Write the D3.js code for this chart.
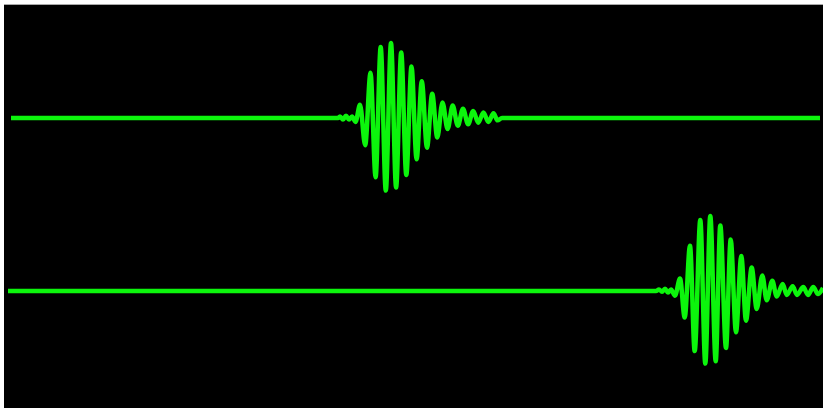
<!DOCTYPE html>
<html>
<head>
<meta charset="utf-8">
<script src="https://cdn.jsdelivr.net/npm/d3@7"></script>
<style>
  html, body { margin: 0; padding: 0; background: #ffffff; }
  svg { display: block; }
</style>
</head>
<body>
<svg id="chart" width="823" height="408"></svg>
<script>
// Two seismogram traces: sample index and normalised amplitude at each turning point.
const traceNames = ["Station A", "Station B"];

const traceATimes = [7, 334, 336, 339, 342, 345, 348, 351.5,
  356, 361.2, 366.5, 371.6, 376.7, 381.8, 387, 392.1, 397.2, 402.3, 407.5, 412.6,
  417.8, 423, 428.2, 433.3, 438.5, 443.6, 448.7, 453.8, 459, 464.1, 469.2, 474.3,
  479.4, 484.4, 489.5, 493.5, 498, 816];
const traceAAmps = [0, 0, 0.02, -0.02, 0.03, -0.02, 0.02, -0.05,
  0.17, -0.35, 0.58, -0.76, 0.91, -0.93, 0.96, -0.89, 0.84, -0.73, 0.66, -0.53,
  0.47, -0.38, 0.31, -0.25, 0.20, -0.14, 0.16, -0.10, 0.12, -0.08, 0.09, -0.06,
  0.07, -0.05, 0.06, -0.03, 0, 0];

const traceBTimes = [4, 652, 655, 658, 661, 664, 667, 671,
  676, 680.7, 686, 690.7, 696.3, 701.3, 706.3, 711.7, 716.3, 722, 726.7, 732,
  737.3, 742, 747.7, 752.7, 758.3, 762.7, 768.3, 772.7, 778.7, 782.7, 788.7,
  793, 799.3, 804, 809.3, 814, 819];
const traceBAmps = [0, 0, 0.02, -0.01, 0.03, -0.02, 0.02, -0.06,
  0.16, -0.34, 0.58, -0.77, 0.91, -0.93, 0.96, -0.90, 0.84, -0.73, 0.66, -0.53,
  0.45, -0.38, 0.30, -0.23, 0.20, -0.12, 0.13, -0.07, 0.09, -0.05, 0.06,
  -0.05, 0.05, -0.05, 0.05, -0.04, 0.04];

const traces = [
  { name: traceNames[0], times: traceATimes, amps: traceAAmps },
  { name: traceNames[1], times: traceBTimes, amps: traceBAmps }
];

const width = 823, height = 408;
const svg = d3.select("#chart");

// Display panel
svg.append("rect")
  .attr("x", 4).attr("y", 4)
  .attr("width", width - 4).attr("height", height - 4)
  .attr("fill", "#000000");
svg.append("line")
  .attr("x1", 4).attr("x2", width)
  .attr("y1", 4.5).attr("y2", 4.5)
  .attr("stroke", "#a8a8a8").attr("stroke-width", 1);

const x = d3.scaleLinear().domain([0, 819]).range([4, 823]);
const baseline = d3.scalePoint().domain(traceNames).range([118, 291]);
const amp = d3.scaleLinear().domain([-1, 1]).range([78, -78]);

traces.forEach(tr => {
  const pts = tr.times.map((t, i) => [t, tr.amps[i]]);
  const y0 = baseline(tr.name);
  const line = d3.line()
    .x(d => x(d[0]))
    .y(d => y0 + amp(d[1]))
    .curve(d3.curveMonotoneX);
  svg.append("path")
    .datum(pts)
    .attr("d", line)
    .attr("fill", "none")
    .attr("stroke", "#0cf50c")
    .attr("stroke-width", 4.5)
    .attr("stroke-linejoin", "round");
});
</script>
</body>
</html>
